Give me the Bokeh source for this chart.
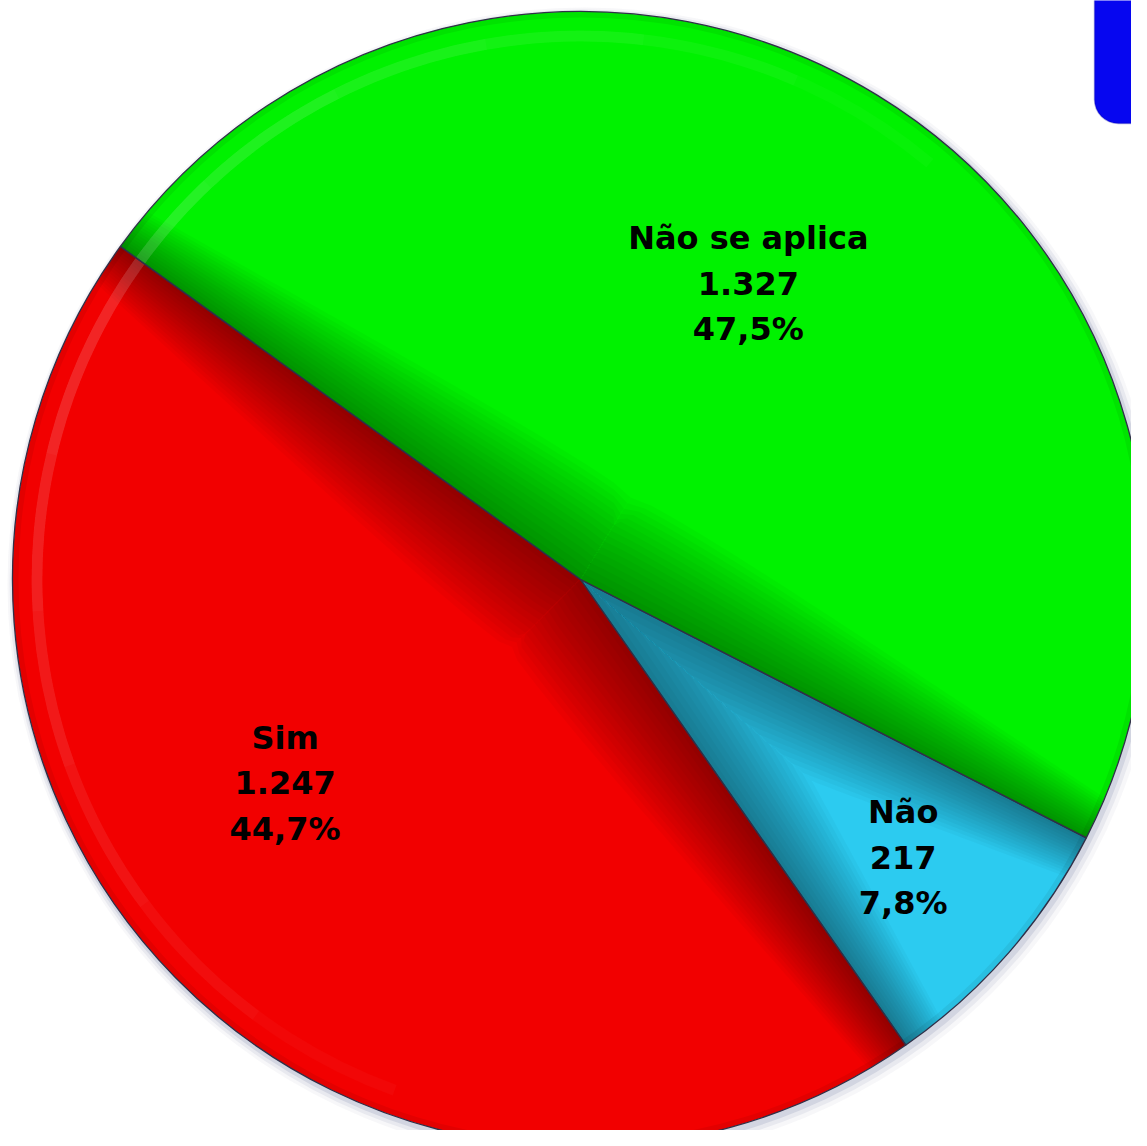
import numpy as np
from bokeh.plotting import figure
from bokeh.models import Range1d, ColumnDataSource, BoxAnnotation
from bokeh.embed import file_html
from bokeh.resources import INLINE
from bokeh.core.properties import value

# ---- data ----
categories = ["Não se aplica", "Sim", "Não"]
counts = [1327, 1247, 217]
count_labels = ["1.327", "1.247", "217"]
pct_labels = ["47,5%", "44,7%", "7,8%"]

# ---- style ----
base_colors = ["#00f200", "#f20000", "#2ccbf0"]
label_r = [340, 359, 426]
label_shift_deg = [1.9, -9.9, 0.3]
start_deg = -27.06

W, H = 1131, 1130
p = figure(width=W, height=H, x_range=Range1d(0, W), y_range=Range1d(1146 - H, 1146),
           output_backend="svg", toolbar_location=None, min_border=0)
p.axis.visible = False
p.grid.visible = False
p.outline_line_color = None
p.background_fill_color = "white"
p.border_fill_color = "white"

cx, cy, R = 580, 567, 568

total = float(sum(counts))
fr = np.array(counts) / total
ang = np.cumsum(np.concatenate([[0], fr])) * 2 * np.pi + np.radians(start_deg)
starts, ends = ang[:-1], ang[1:]

# soft shadow / glow
for dr, dx, dy, a in [(9, 4, -5, 0.06), (6, 3, -4, 0.10), (3, 2, -3, 0.18)]:
    p.circle(x=[cx + dx], y=[cy + dy], radius=R + dr, fill_color="#7078a0",
             fill_alpha=a, line_color=None)

# flat slices
p.wedge(x=[cx] * 3, y=[cy] * 3, radius=R, start_angle=starts, end_angle=ends,
        fill_color=base_colors, line_color=None)

# bevel darkening along the radial edges (layered translucent strips)
D = 110.0
M = 16
rs = np.linspace(0.5, R, 90)
pxs, pys = [], []
for i in range(len(counts)):
    span = ends[i] - starts[i]
    for j in range(1, M + 1):
        d = D * j / M * (1 - 0.6 * rs / R)
        phi = np.where(d >= rs, np.pi / 2, np.arcsin(np.clip(d / rs, 0, 1)))
        phi = np.minimum(phi, span / 2)
        for edge, sign in [(starts[i], 1), (ends[i], -1)]:
            a_edge = np.full_like(rs, edge)
            a_in = edge + sign * phi
            ax = np.concatenate([[cx], cx + rs * np.cos(a_edge), (cx + rs * np.cos(a_in))[::-1]])
            ay = np.concatenate([[cy], cy + rs * np.sin(a_edge), (cy + rs * np.sin(a_in))[::-1]])
            pxs.append(list(ax)); pys.append(list(ay))
p.patches(xs=pxs, ys=pys, fill_color="black", fill_alpha=0.026, line_color=None)

# rim highlight (nested faded arcs)
hc, hw = np.radians(150), np.radians(100)
NL = 6
for k in range(1, NL + 1):
    w = hw * k / NL
    p.annular_wedge(x=cx, y=cy, inner_radius=R - 30, outer_radius=R - 19,
                    start_angle=hc - w, end_angle=hc + w,
                    fill_color="white", fill_alpha=0.028, line_color=None)
p.annular_wedge(x=cx, y=cy, inner_radius=R - 6, outer_radius=R,
                start_angle=0, end_angle=2 * np.pi,
                fill_color="black", fill_alpha=0.06, line_color=None)

# outlines
p.wedge(x=[cx] * 3, y=[cy] * 3, radius=R, start_angle=starts, end_angle=ends,
        fill_color=None, line_color="#303048", line_width=1.3)

# labels
mid = (starts + ends) / 2 + np.radians(label_shift_deg)
lx = cx + np.array(label_r) * np.cos(mid)
ly = cy + np.array(label_r) * np.sin(mid)
texts = [f"{c}\n{n}\n{q}" for c, n, q in zip(categories, count_labels, pct_labels)]
src = ColumnDataSource(dict(x=lx, y=ly, t=texts))
p.text(x="x", y="y", text="t", source=src, text_align="center", text_baseline="middle",
       text_font=value("DejaVu Sans"), text_font_style="bold", text_font_size="32px",
       text_line_height=1.2, text_color="black")

# partial blue box at top right
p.add_layout(BoxAnnotation(left=1094, right=1250, bottom=1146 - 123, top=1250,
                           fill_color="#0606f0", fill_alpha=1.0, line_color="#0000a0",
                           line_width=1.5, border_radius=24))

open("out.html", "w").write(file_html(p, INLINE))
